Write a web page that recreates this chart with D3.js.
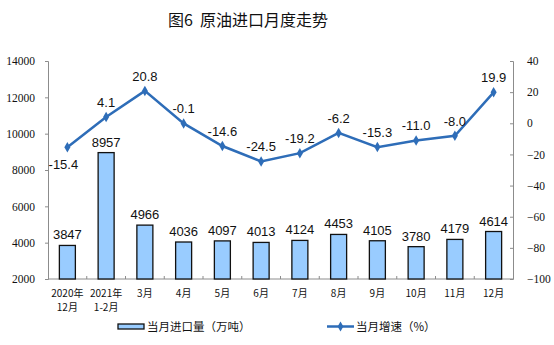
<!DOCTYPE html>
<html>
<head>
<meta charset="utf-8">
<script src="https://cdn.jsdelivr.net/npm/d3@7"></script>
<style>
  html, body { margin: 0; padding: 0; background: #fff; }
  svg { display: block; }
</style>
</head>
<body>
<svg id="chart" width="554" height="345"></svg>
<script>
// Monthly crude oil imports (10k tonnes) and year-on-year growth (%)
const categories = [["2020年", "12月"], ["2021年", "1-2月"], ["3月"], ["4月"], ["5月"], ["6月"], ["7月"], ["8月"], ["9月"], ["10月"], ["11月"], ["12月"]];
const importVolume = [3847, 8957, 4966, 4036, 4097, 4013, 4124, 4453, 4105, 3780, 4179, 4614];
const growthRate = [-15.4, 4.1, 20.8, -0.1, -14.6, -24.5, -19.2, -6.2, -15.3, -11.0, -8.0, 19.9];
const leftTicks = [2000, 4000, 6000, 8000, 10000, 12000, 14000];
const rightTicks = [-100, -80, -60, -40, -20, 0, 20, 40];
const titleText = "图6  原油进口月度走势";
const legendBar = "当月进口量（万吨）";
const legendLine = "当月增速（%）";

const svg = d3.select("#chart");
const margin = { left: 48, right: 513, top: 61, bottom: 279 };
const lineColor = "#2e6db8";
const barColor = "#99ccff";
const axisColor = "#8c8c8c";
const cjk = "'Noto Sans CJK SC', sans-serif";
const serif = "'Liberation Serif', 'Times New Roman', serif";
const sans = "'Liberation Sans', Arial, sans-serif";

const x = d3.scaleBand().domain(d3.range(categories.length)).range([margin.left, margin.right]).paddingInner(0).paddingOuter(0);
const yL = d3.scaleLinear().domain([2000, 14000]).range([margin.bottom, margin.top]);
const yR = d3.scaleLinear().domain([-100, 40]).range([margin.bottom, margin.top]);
const barW = 16;

// Title
svg.append("text").attr("x", 248).attr("y", 26).attr("text-anchor", "middle")
  .attr("font-family", cjk).attr("font-size", 16).attr("font-weight", 400).attr("fill", "#111")
  .style("white-space", "pre").text(titleText);

// Left axis
const gL = svg.append("g").attr("transform", `translate(${margin.left},0)`)
  .call(d3.axisLeft(yL).tickValues(leftTicks).tickSize(3).tickPadding(10).tickFormat(d3.format("d")));
// Right axis
const gR = svg.append("g").attr("transform", `translate(${margin.right},0)`)
  .call(d3.axisRight(yR).tickValues(rightTicks).tickSize(-3).tickPadding(14).tickFormat(d3.format("d")));
[gL, gR].forEach(g => {
  g.select(".domain").attr("stroke", axisColor);
  g.selectAll(".tick line").attr("stroke", axisColor);
  g.selectAll(".tick text").attr("font-family", serif).attr("font-size", 11.5).attr("fill", "#111");
});

// Bottom axis with inward ticks at category boundaries
svg.append("line").attr("x1", margin.left).attr("x2", margin.right)
  .attr("y1", margin.bottom).attr("y2", margin.bottom).attr("stroke", axisColor);
d3.range(1, categories.length).forEach(i => {
  const bx = x(i);
  svg.append("line").attr("x1", bx).attr("x2", bx)
    .attr("y1", margin.bottom).attr("y2", margin.bottom - 3).attr("stroke", axisColor);
});

// Category labels
const catG = svg.append("g");
categories.forEach((lines, i) => {
  const t = catG.append("text").attr("text-anchor", "middle")
    .attr("font-family", cjk).attr("font-size", 10).attr("fill", "#111");
  lines.forEach((s, j) => {
    t.append("tspan").attr("x", x(i) + x.bandwidth() / 2).attr("y", 297 + j * 14).text(s);
  });
});

// Bars
svg.append("g").selectAll("rect").data(importVolume).join("rect")
  .attr("x", (d, i) => x(i) + x.bandwidth() / 2 - barW / 2)
  .attr("width", barW)
  .attr("y", d => yL(d))
  .attr("height", d => margin.bottom - yL(d))
  .attr("fill", barColor).attr("stroke", "#111").attr("stroke-width", 1.3);

// Bar value labels
svg.append("g").selectAll("text").data(importVolume).join("text")
  .attr("x", (d, i) => x(i) + x.bandwidth() / 2)
  .attr("y", d => yL(d) - 6)
  .attr("text-anchor", "middle").attr("font-family", sans).attr("font-size", 13).attr("fill", "#111")
  .text(d => d);

// Growth line
const cx = i => x(i) + x.bandwidth() / 2;
svg.append("path").datum(growthRate)
  .attr("d", d3.line().x((d, i) => cx(i)).y(d => yR(d)))
  .attr("fill", "none").attr("stroke", lineColor).attr("stroke-width", 2.5);
svg.append("g").selectAll("path").data(growthRate).join("path")
  .attr("transform", (d, i) => `translate(${cx(i)},${yR(d)})`)
  .attr("d", d3.symbol().type(d3.symbolDiamond).size(32))
  .attr("fill", lineColor);

// Growth value labels
svg.append("g").selectAll("text").data(growthRate).join("text")
  .attr("x", (d, i) => i === 0 ? cx(i) - 4 : cx(i))
  .attr("y", (d, i) => i === 0 ? yR(d) + 22 : yR(d) - 10)
  .attr("text-anchor", "middle").attr("font-family", sans).attr("font-size", 13).attr("fill", "#111")
  .text(d => d.toFixed(1));

// Legend
const lg = svg.append("g");
lg.append("rect").attr("x", 118).attr("y", 324).attr("width", 26).attr("height", 5)
  .attr("fill", barColor).attr("stroke", "#111").attr("stroke-width", 1.3);
lg.append("text").attr("x", 147).attr("y", 331).attr("font-family", cjk).attr("font-size", 11.5)
  .attr("fill", "#111").text(legendBar);
lg.append("line").attr("x1", 327).attr("x2", 354).attr("y1", 326.5).attr("y2", 326.5)
  .attr("stroke", lineColor).attr("stroke-width", 2.5);
lg.append("path").attr("transform", "translate(340.5,326.5)")
  .attr("d", d3.symbol().type(d3.symbolDiamond).size(28)).attr("fill", lineColor);
lg.append("text").attr("x", 356).attr("y", 331).attr("font-family", cjk).attr("font-size", 11.5)
  .attr("fill", "#111").text(legendLine);
</script>
</body>
</html>
